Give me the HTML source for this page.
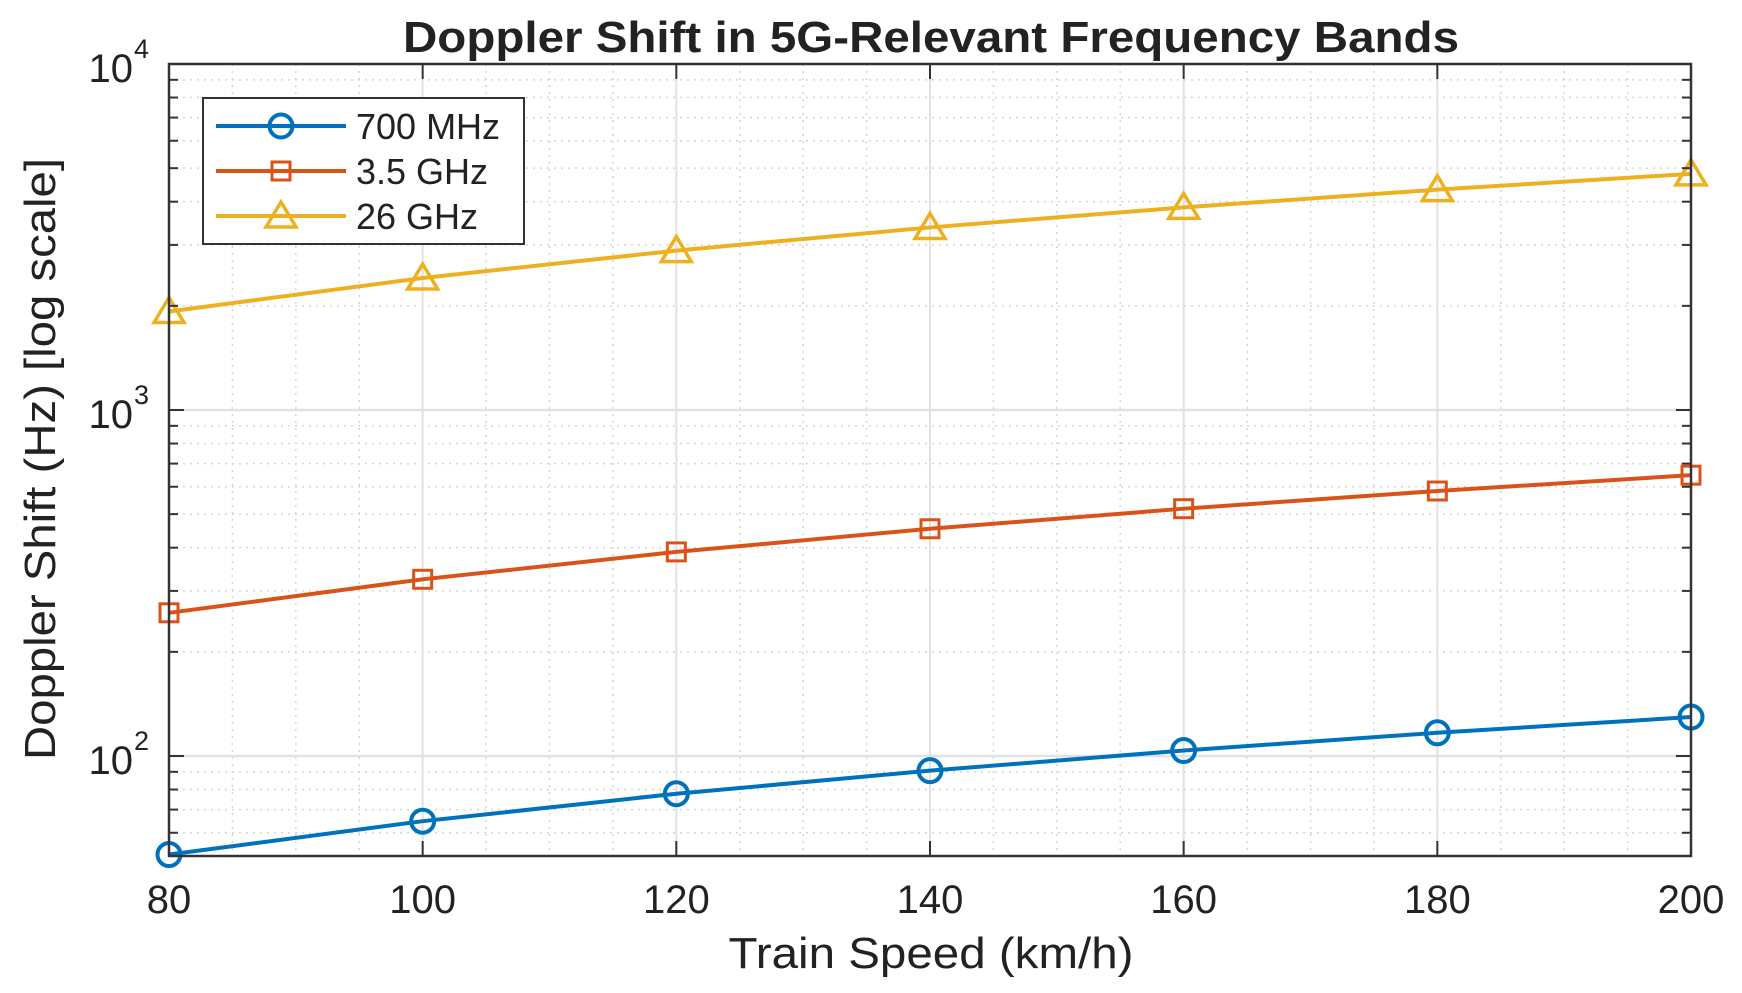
<!DOCTYPE html>
<html><head><meta charset="utf-8"><style>
html,body{margin:0;padding:0;background:#fff}
svg{display:block;font-family:"Liberation Sans",Arial,sans-serif}
</style></head><body>
<svg id="chart" width="1742" height="993" viewBox="0 0 1742 993" xmlns="http://www.w3.org/2000/svg">
<rect width="1742" height="993" fill="#fff"/>
<g id="grid"></g>
<g id="series"></g>
<g id="axes"></g>
<text x="931" y="52" text-anchor="middle" font-size="44" font-weight="bold" fill="#222" textLength="1056" lengthAdjust="spacingAndGlyphs">Doppler Shift in 5G-Relevant Frequency Bands</text>
<text x="931" y="968" text-anchor="middle" font-size="44" fill="#222" textLength="405" lengthAdjust="spacingAndGlyphs">Train Speed (km/h)</text>
<text transform="translate(55,459) rotate(-90)" text-anchor="middle" font-size="44" fill="#222" textLength="602" lengthAdjust="spacingAndGlyphs">Doppler Shift (Hz) [log scale]</text>
<g id="legend"></g>
</svg>
<script>
const speeds = [80, 100, 120, 140, 160, 180, 200];
const f700 = [51.9, 64.8, 77.8, 90.7, 103.7, 116.7, 129.6];
const f3500 = [259.3, 324.1, 388.9, 453.7, 518.5, 583.3, 648.1];
const f26000 = [1926, 2407, 2889, 3370, 3852, 4333, 4815];
const xTicks = [80, 100, 120, 140, 160, 180, 200];
const yDecades = [2, 3, 4];
const seriesNames = ["700 MHz", "3.5 GHz", "26 GHz"];

const L=169,R=1691,T=64,B=856;
const xMin=80,xMax=200,yMinLog=Math.log10(51.4),yMaxLog=4;
const sx=v=>L+(v-xMin)/(xMax-xMin)*(R-L);
const sy=v=>B-(Math.log10(v)-yMinLog)/(yMaxLog-yMinLog)*(B-T);
const NS="http://www.w3.org/2000/svg";
function mk(tag,attrs,parent){const e=document.createElementNS(NS,tag);for(const k in attrs)e.setAttribute(k,attrs[k]);parent.appendChild(e);return e;}
const grid=document.getElementById('grid'),axes=document.getElementById('axes'),ser=document.getElementById('series'),leg=document.getElementById('legend');

for(let v=xMin;v<=xMax;v+=5){if(v%20===0)continue;const l=mk('line',{x1:sx(v),x2:sx(v),y1:T,y2:B,stroke:'#d6d6d6','stroke-width':1.5,'stroke-dasharray':'2,5'},grid);

}
for(let d=1;d<=3;d++)for(let m=2;m<=9;m++){const v=m*Math.pow(10,d);if(v<51.4||v>10000)continue;const y=sy(v);
const l=mk('line',{x1:L,x2:R,y1:y,y2:y,stroke:'#d6d6d6','stroke-width':1.5,'stroke-dasharray':'2,5'},grid);


const t1=mk('line',{x1:L,x2:L+9,y1:y,y2:y,stroke:'#333','stroke-width':2},axes);


const t2=mk('line',{x1:R-9,x2:R,y1:y,y2:y,stroke:'#333','stroke-width':2},axes);

}
xTicks.forEach(v=>{const x=sx(v);
const g=mk('line',{x1:x,x2:x,y1:T,y2:B,stroke:'#e2e2e2','stroke-width':2},grid);


const t=mk('line',{x1:x,x2:x,y1:B,y2:B-15,stroke:'#333','stroke-width':2},axes);


const t2=mk('line',{x1:x,x2:x,y1:T,y2:T+15,stroke:'#333','stroke-width':2},axes);


const lb=mk('text',{x:x,y:913,'text-anchor':'middle','font-size':40,fill:'#222'},axes);lb.textContent=v;

});
yDecades.forEach(d=>{const y=sy(Math.pow(10,d));
const g=mk('line',{x1:L,x2:R,y1:y,y2:y,stroke:'#e2e2e2','stroke-width':2.5},grid);


const t=mk('line',{x1:L,x2:L+15,y1:y,y2:y,stroke:'#333','stroke-width':2},axes);


const t2=mk('line',{x1:R-15,x2:R,y1:y,y2:y,stroke:'#333','stroke-width':2},axes);


const lb=mk('text',{x:133,y:y+18,'text-anchor':'end','font-size':40,fill:'#222'},axes);lb.textContent='10';


const sp=mk('text',{x:134,y:y-6,'text-anchor':'start','font-size':27,fill:'#222'},axes);sp.textContent=d;

});
const box=mk('rect',{x:L,y:T,width:R-L,height:B-T,fill:'none',stroke:'#333','stroke-width':2.5},axes);



const colors=['#0072BD','#D95319','#EDB120'];
function marker(kind,x,y,c,p){let m;
 if(kind===0)m=mk('circle',{cx:x,cy:y,r:11.5,fill:'none',stroke:c,'stroke-width':4},p);
 else if(kind===1)m=mk('rect',{x:x-9,y:y-9,width:18,height:18,fill:'none',stroke:c,'stroke-width':3},p);
 else m=mk('polygon',{points:`${x},${y-14} ${x+15},${y+11} ${x-15},${y+11}`,fill:'none',stroke:c,'stroke-width':3.5},p);
 return m;}
[f700,f3500,f26000].forEach((arr,i)=>{
 const pts=arr.map((v,j)=>sx(speeds[j])+','+sy(v)).join(' ');
 const pl=mk('polyline',{points:pts,fill:'none',stroke:colors[i],'stroke-width':4},ser);
 
 
 arr.forEach((v,j)=>{const m=marker(i,sx(speeds[j]),sy(v),colors[i],ser);
 
 });
});
const lr=mk('rect',{x:203,y:98,width:321,height:146,fill:'#fff',stroke:'#333','stroke-width':2},leg);


[126,171,216].forEach((y,i)=>{
 const ln=mk('line',{x1:216,x2:346,y1:y,y2:y,stroke:colors[i],'stroke-width':4},leg);
 
 
 const m=marker(i,281,y,colors[i],leg);
 
 
 const t=mk('text',{x:356,y:y+13,'font-size':36,fill:'#222'},leg);t.textContent=seriesNames[i];
 
 
});
</script>
</body></html>
